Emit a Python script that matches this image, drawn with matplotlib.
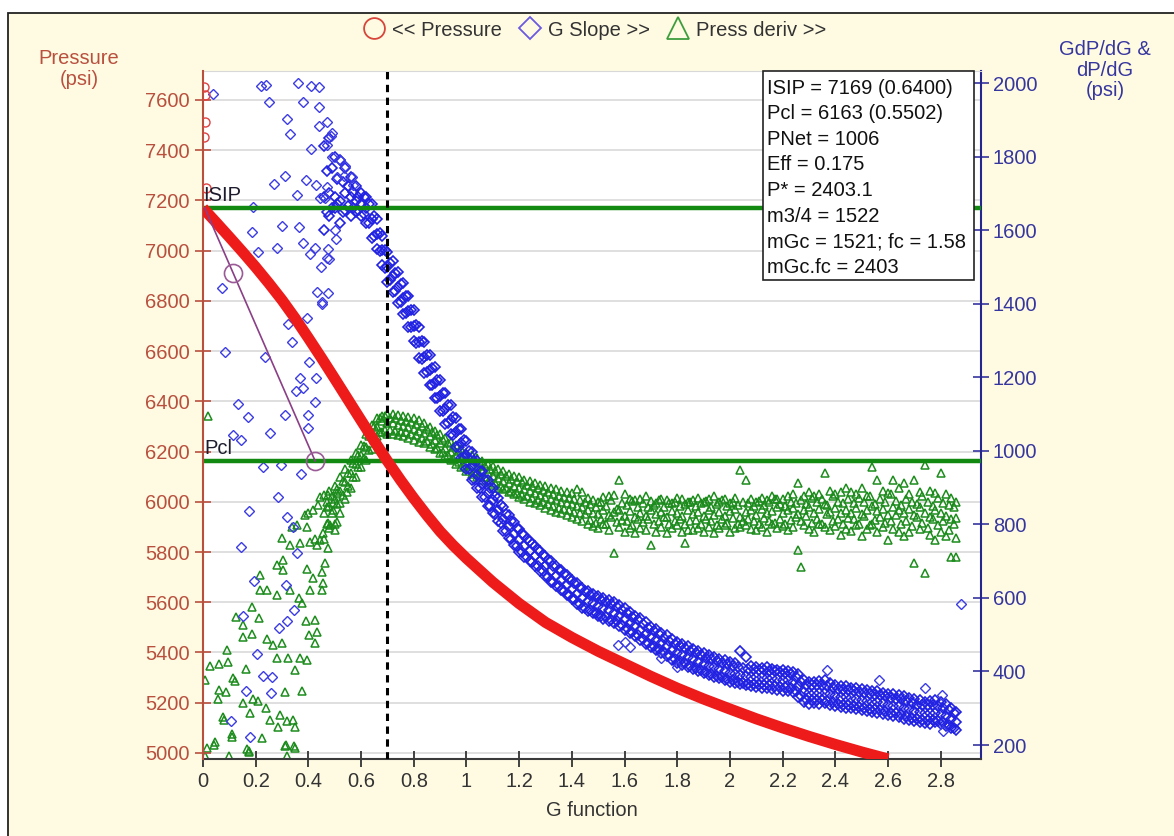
import matplotlib.pyplot as plt
import matplotlib.transforms as mtransforms
from matplotlib.lines import Line2D
from matplotlib.patches import Rectangle

plt.rcParams['font.family'] = ['Liberation Sans', 'DejaVu Sans']

# ---- pressure (left axis, psi) ----
press_g = [0.0, 0.05, 0.10, 0.15, 0.20, 0.25, 0.30, 0.35, 0.40, 0.45, 0.50,
           0.55, 0.60, 0.65, 0.70, 0.75, 0.80, 0.85, 0.90, 0.95, 1.00, 1.10,
           1.20, 1.30, 1.40, 1.50, 1.60, 1.70, 1.80, 1.90, 2.00, 2.10, 2.20,
           2.30, 2.40, 2.50, 2.60]
press_v = [7169, 7112, 7054, 6995, 6934, 6870, 6803, 6730, 6652, 6572, 6490,
           6407, 6324, 6242, 6162, 6086, 6014, 5946, 5882, 5826, 5775, 5680,
           5595, 5520, 5460, 5405, 5355, 5305, 5258, 5215, 5175, 5136, 5100,
           5066, 5034, 5004, 4976]
press_early_g = [0.004, 0.006, 0.008, 0.005, 0.012]
press_early_v = [7652, 7620, 7512, 7453, 7250]

# ---- dense part of both derivative curves (right axis) ----
band_g = [0.46, 0.48, 0.50, 0.52, 0.54, 0.56, 0.58, 0.60, 0.62, 0.64,
          0.66, 0.68, 0.70, 0.72, 0.74, 0.76, 0.78, 0.80, 0.82, 0.84,
          0.86, 0.88, 0.90, 0.92, 0.94, 0.96, 0.98, 1.00, 1.02, 1.04,
          1.06, 1.08, 1.10, 1.12, 1.14, 1.16, 1.18, 1.20, 1.22, 1.24,
          1.26, 1.28, 1.30, 1.32, 1.34, 1.36, 1.38, 1.40, 1.42, 1.44,
          1.46, 1.48, 1.50, 1.52, 1.54, 1.56, 1.58, 1.60, 1.62, 1.64,
          1.66, 1.68, 1.70, 1.72, 1.74, 1.76, 1.78, 1.80, 1.82, 1.84,
          1.86, 1.88, 1.90, 1.92, 1.94, 1.96, 1.98, 2.00, 2.02, 2.04,
          2.06, 2.08, 2.10, 2.12, 2.14, 2.16, 2.18, 2.20, 2.22, 2.24,
          2.26, 2.28, 2.30, 2.32, 2.34, 2.36, 2.38, 2.40, 2.42, 2.44,
          2.46, 2.48, 2.50, 2.52, 2.54, 2.56, 2.58, 2.60, 2.62, 2.64,
          2.66, 2.68, 2.70, 2.72, 2.74, 2.76, 2.78, 2.80, 2.82, 2.84,
          2.86]
band_g2 = [0.47, 0.49, 0.51, 0.53, 0.55, 0.57, 0.59, 0.61, 0.63, 0.65,
           0.67, 0.69, 0.71, 0.73, 0.75, 0.77, 0.79, 0.81, 0.83, 0.85,
           0.87, 0.89, 0.91, 0.93, 0.95, 0.97, 0.99, 1.01, 1.03, 1.05,
           1.07, 1.09, 1.11, 1.13, 1.15, 1.17, 1.19, 1.21, 1.23, 1.25,
           1.27, 1.29, 1.31, 1.33, 1.35, 1.37, 1.39, 1.41, 1.43, 1.45,
           1.47, 1.49, 1.51, 1.53, 1.55, 1.57, 1.59, 1.61, 1.63, 1.65,
           1.67, 1.69, 1.71, 1.73, 1.75, 1.77, 1.79, 1.81, 1.83, 1.85,
           1.87, 1.89, 1.91, 1.93, 1.95, 1.97, 1.99, 2.01, 2.03, 2.05,
           2.07, 2.09, 2.11, 2.13, 2.15, 2.17, 2.19, 2.21, 2.23, 2.25,
           2.27, 2.29, 2.31, 2.33, 2.35, 2.37, 2.39, 2.41, 2.43, 2.45,
           2.47, 2.49, 2.51, 2.53, 2.55, 2.57, 2.59, 2.61, 2.63, 2.65,
           2.67, 2.69, 2.71, 2.73, 2.75, 2.77, 2.79, 2.81, 2.83, 2.85]

slope_hi = [1830, 1850, 1800, 1790, 1770, 1745, 1720, 1700, 1690, 1670,
            1630, 1585, 1542, 1517, 1487, 1457, 1422, 1382, 1337, 1297,
            1262, 1227, 1192, 1157, 1125, 1090, 1060, 1028, 998, 972,
            945, 920, 898, 872, 848, 826, 806, 788, 772, 756,
            742, 728, 715, 700, 688, 675, 662, 650, 640, 628,
            620, 612, 606, 600, 594, 590, 580, 572, 562, 552,
            545, 534, 522, 515, 506, 498, 488, 480, 474, 468,
            462, 455, 450, 444, 440, 434, 430, 426, 422, 455,
            440, 414, 412, 410, 412, 408, 405, 404, 402, 398,
            392, 378, 372, 372, 375, 378, 368, 362, 360, 360,
            356, 354, 352, 350, 348, 346, 342, 340, 338, 335,
            332, 328, 325, 322, 318, 320, 322, 318, 312, 300,
            290]
slope_mid = [1690, 1700, 1690, 1680, 1700, 1690, 1680, 1670, 1660, 1630,
             1590, 1545, 1500, 1475, 1445, 1415, 1380, 1340, 1295, 1255,
             1220, 1185, 1150, 1115, 1085, 1050, 1020, 990, 960, 935,
             910, 885, 865, 840, 815, 795, 775, 757, 742, 728,
             715, 700, 688, 672, 660, 648, 635, 623, 612, 600,
             592, 585, 578, 572, 566, 560, 552, 542, 533, 524,
             514, 503, 493, 485, 477, 468, 459, 451, 446, 440,
             433, 427, 421, 416, 411, 406, 401, 397, 394, 391,
             388, 386, 385, 384, 383, 382, 380, 378, 376, 372,
             360, 345, 342, 341, 342, 342, 338, 334, 331, 330,
             328, 325, 323, 320, 318, 316, 314, 310, 307, 305,
             302, 297, 292, 289, 288, 288, 288, 285, 278, 270,
             262]
slope_lo = [1600, 1640, 1660, 1620, 1655, 1640, 1650, 1640, 1620, 1580,
            1550, 1505, 1458, 1433, 1403, 1373, 1338, 1298, 1253, 1213,
            1178, 1143, 1108, 1073, 1045, 1010, 980, 952, 922, 898,
            875, 850, 832, 808, 782, 764, 744, 726, 712, 700,
            688, 672, 661, 644, 632, 621, 608, 596, 584, 572,
            564, 558, 550, 544, 538, 532, 524, 514, 504, 496,
            486, 476, 466, 458, 450, 442, 432, 424, 418, 412,
            408, 402, 396, 390, 386, 382, 376, 372, 368, 366,
            362, 360, 358, 356, 354, 352, 350, 348, 346, 344,
            330, 318, 312, 314, 312, 315, 310, 306, 304, 302,
            300, 298, 296, 292, 290, 288, 285, 282, 280, 276,
            272, 268, 264, 262, 260, 258, 262, 258, 252, 245,
            240]
slope_a = [1760, 1770, 1740, 1730, 1720, 1705, 1690, 1690, 1670, 1640,
           1592, 1546, 1512, 1484, 1454, 1422, 1384, 1342, 1299, 1262,
           1226, 1192, 1156, 1124, 1092, 1059, 1029, 999, 972, 946,
           922, 899, 876, 852, 829, 809, 790, 774, 759, 746,
           730, 716, 702, 688, 676, 664, 651, 640, 628, 618,
           608, 602, 595, 589, 583, 576, 567, 558, 548, 539,
           528, 518, 509, 501, 492, 484, 475, 468, 463, 456,
           450, 444, 438, 434, 428, 424, 419, 416, 412, 410,
           407, 406, 404, 404, 402, 401, 399, 397, 394, 386,
           372, 364, 362, 362, 362, 360, 356, 352, 350, 349,
           346, 344, 342, 339, 337, 335, 332, 328, 326, 324,
           320, 314, 310, 308, 308, 308, 306, 302, 294, 286]
slope_b = [1650, 1660, 1670, 1650, 1665, 1660, 1655, 1645, 1620, 1585,
           1544, 1498, 1464, 1436, 1406, 1374, 1336, 1294, 1251, 1214,
           1178, 1144, 1108, 1076, 1044, 1011, 981, 951, 924, 898,
           874, 851, 828, 804, 781, 761, 742, 726, 711, 698,
           686, 672, 658, 644, 632, 620, 607, 596, 584, 574,
           568, 560, 552, 549, 540, 536, 527, 518, 508, 499,
           488, 478, 469, 461, 452, 444, 435, 428, 423, 416,
           410, 404, 398, 394, 388, 384, 379, 376, 372, 370,
           367, 366, 364, 364, 362, 361, 359, 357, 354, 346,
           332, 324, 322, 322, 322, 320, 316, 312, 310, 309,
           306, 304, 302, 299, 297, 295, 292, 288, 286, 284,
           280, 274, 270, 268, 268, 268, 266, 262, 254, 246]

deriv_hi = [880, 890, 905, 930, 950, 975, 995, 1015, 1045, 1070,
            1090, 1095, 1100, 1100, 1098, 1095, 1092, 1088, 1085, 1075,
            1065, 1055, 1045, 1035, 1025, 1015, 1005, 995, 988, 980,
            972, 965, 958, 950, 945, 938, 932, 928, 922, 918,
            912, 908, 905, 900, 895, 890, 888, 885, 895, 888,
            872, 866, 862, 874, 876, 880, 921, 884, 870, 865,
            868, 876, 864, 858, 870, 866, 858, 872, 868, 862,
            866, 872, 860, 868, 878, 862, 868, 858, 872, 949,
            921, 868, 862, 872, 866, 878, 870, 868, 876, 882,
            913, 878, 888, 876, 884, 940, 892, 882, 888, 900,
            888, 882, 898, 878, 957, 921, 892, 886, 921, 898,
            913, 882, 921, 888, 962, 892, 886, 940, 882, 872,
            860]
deriv_mid = [830, 850, 870, 890, 915, 940, 965, 990, 1010, 1040,
             1065, 1080, 1075, 1075, 1070, 1068, 1065, 1060, 1055, 1048,
             1040, 1030, 1020, 1008, 998, 990, 980, 970, 962, 955,
             948, 940, 932, 925, 918, 912, 905, 900, 895, 890,
             885, 880, 875, 870, 865, 860, 858, 855, 850, 848,
             840, 832, 828, 838, 826, 834, 840, 822, 836, 820,
             832, 824, 838, 828, 835, 820, 836, 830, 824, 840,
             828, 834, 822, 838, 826, 834, 824, 836, 842, 820,
             834, 840, 826, 842, 830, 836, 846, 832, 838, 844,
             828, 838, 848, 832, 842, 855, 835, 845, 830, 840,
             832, 845, 828, 840, 850, 836, 842, 826, 846, 838,
             830, 842, 826, 846, 832, 820, 838, 830, 822, 815,
             818]
deriv_lo = [760, 790, 800, 830, 870, 900, 930, 955, 975, 1005,
            1040, 1050, 1045, 1045, 1042, 1040, 1035, 1030, 1025, 1020,
            1010, 1005, 995, 985, 975, 965, 955, 945, 938, 930,
            922, 915, 908, 900, 895, 888, 882, 875, 870, 862,
            858, 852, 845, 840, 835, 830, 825, 820, 815, 810,
            800, 796, 790, 802, 786, 723, 794, 780, 790, 776,
            790, 784, 745, 780, 794, 776, 790, 798, 780, 784,
            784, 790, 780, 794, 776, 790, 798, 780, 790, 794,
            798, 788, 784, 794, 780, 800, 790, 796, 786, 792,
            731, 798, 788, 778, 800, 792, 786, 796, 772, 788,
            782, 798, 768, 788, 800, 778, 792, 758, 788, 778,
            768, 778, 696, 788, 668, 772, 758, 778, 768, 712,
            762]
deriv_a = [862, 878, 895, 918, 940, 966, 990, 1012, 1040, 1068,
           1090, 1094, 1090, 1088, 1084, 1082, 1078, 1074, 1068, 1060,
           1052, 1042, 1030, 1020, 1010, 1000, 992, 982, 975, 968,
           960, 952, 944, 938, 932, 924, 918, 914, 908, 904,
           898, 894, 888, 884, 878, 875, 872, 868, 865, 862,
           856, 848, 862, 850, 866, 842, 858, 852, 864, 848,
           858, 848, 854, 866, 846, 858, 862, 850, 856, 860,
           850, 858, 864, 846, 856, 866, 850, 860, 854, 862,
           858, 850, 864, 854, 860, 868, 856, 850, 862, 858,
           866, 856, 872, 860, 868, 854, 878, 862, 858, 870,
           858, 872, 862, 878, 856, 868, 860, 882, 864, 854,
           868, 860, 856, 878, 862, 850, 872, 858, 852, 846]
deriv_b = [800, 832, 855, 880, 905, 930, 955, 980, 1002, 1030,
           1052, 1058, 1058, 1055, 1052, 1050, 1046, 1042, 1036, 1028,
           1018, 1008, 998, 988, 978, 970, 960, 952, 942, 935,
           928, 920, 912, 905, 898, 892, 886, 880, 876, 872,
           866, 860, 855, 850, 845, 842, 838, 835, 832, 828,
           812, 804, 816, 800, 820, 806, 812, 808, 798, 816,
           806, 816, 800, 810, 820, 802, 808, 816, 800, 810,
           812, 802, 816, 808, 798, 814, 805, 818, 802, 810,
           815, 808, 802, 818, 810, 805, 816, 802, 812, 820,
           810, 822, 805, 816, 800, 828, 808, 815, 802, 818,
           815, 802, 822, 798, 812, 820, 805, 810, 825, 802,
           810, 795, 820, 805, 790, 815, 798, 808, 786, 800]

# ---- early scattered points (right axis) ----
slope_g = [0.038, 0.22, 0.24, 0.25, 0.36, 0.41, 0.44, 0.38, 0.44, 0.32, 0.33,
           0.47, 0.44, 0.49, 0.486, 0.47, 0.41, 0.49, 0.52, 0.54, 0.51, 0.535,
           0.565, 0.57, 0.31, 0.27, 0.39, 0.43, 0.47, 0.357, 0.444, 0.463,
           0.19, 0.186, 0.30, 0.365, 0.21, 0.28, 0.38, 0.425, 0.406, 0.474,
           0.505, 0.50, 0.47, 0.48, 0.448, 0.072, 0.433, 0.474, 0.45, 0.45,
           0.083, 0.235, 0.323, 0.395, 0.338, 0.402, 0.368, 0.43, 0.353, 0.38,
           0.425, 0.133, 0.17, 0.31, 0.398, 0.40, 0.254, 0.115, 0.144, 0.227,
           0.296, 0.372, 0.285, 0.175, 0.32, 0.343, 0.144, 0.356, 0.195, 0.315,
           0.345, 0.152, 0.318, 0.288, 0.205, 0.227, 0.262, 0.163, 0.258,
           0.106, 0.178, 1.575, 1.60, 1.62, 1.74, 1.80, 2.37, 2.565, 2.74,
           2.805, 2.81, 2.877]
slope_v = [1970, 1992, 1995, 1948, 2000, 1992, 1989, 1948, 1935, 1902, 1861,
           1894, 1883, 1864, 1856, 1832, 1821, 1799, 1791, 1774, 1745, 1747,
           1745, 1723, 1747, 1726, 1736, 1723, 1717, 1696, 1688, 1688,
           1663, 1595, 1611, 1609, 1541, 1552, 1565, 1552, 1535, 1549,
           1576, 1601, 1524, 1522, 1500, 1443, 1432, 1429, 1405, 1399,
           1269, 1255, 1345, 1361, 1296, 1242, 1198, 1198, 1163, 1171,
           1133, 1128, 1092, 1098, 1098, 1062, 1049, 1043, 1030, 957,
           962, 937, 875, 837, 821, 793, 739, 723, 647, 636,
           568, 552, 538, 519, 448, 389, 386, 348, 342,
           264, 223, 473, 480, 466, 438, 413, 405, 378, 356,
           337, 237, 584]

deriv_g = [0.008, 0.027, 0.061, 0.095, 0.091, 0.061, 0.087, 0.057, 0.076, 0.08,
           0.11, 0.042, 0.008, 0.114, 0.121, 0.163, 0.152, 0.19, 0.209, 0.178,
           0.239, 0.254, 0.292, 0.285, 0.318, 0.342, 0.349, 0.224, 0.315, 0.345,
           0.167, 0.175, 0.125, 0.152, 0.186, 0.213, 0.152, 0.186, 0.243, 0.266,
           0.30, 0.281, 0.323, 0.368, 0.395, 0.349, 0.311, 0.376, 0.391, 0.425,
           0.402, 0.433, 0.425, 0.216, 0.243, 0.281, 0.33, 0.364, 0.376, 0.216,
           0.281, 0.304, 0.304, 0.395, 0.417, 0.452, 0.455, 0.452, 0.406, 0.463,
           0.30, 0.33, 0.368, 0.406, 0.425, 0.444, 0.474, 0.455, 0.474, 0.50,
           0.387, 0.398, 0.417, 0.436, 0.47, 0.493, 0.52, 0.444, 0.474, 0.508,
           0.546, 0.493, 0.508, 0.482, 0.338, 0.357, 0.395, 0.433, 0.015, 0.045,
           0.10, 0.11, 0.175, 0.31, 0.35, 0.32, 0.02, 2.27, 2.86, 1.83]
deriv_v = [378, 416, 421, 427, 459, 351, 343, 324, 277, 269,
           223, 201, 169, 383, 375, 408, 315, 324, 321, 288,
           302, 269, 283, 250, 264, 269, 250, 218, 199, 196,
           188, 180, 549, 527, 576, 546, 495, 503, 487, 473,
           478, 438, 438, 438, 432, 405, 343, 348, 536, 541,
           500, 508, 478, 622, 622, 609, 622, 601, 587, 663,
           690, 677, 704, 680, 655, 671, 641, 622, 622, 696,
           764, 745, 750, 753, 761, 758, 737, 777, 804, 785,
           826, 832, 840, 853, 848, 859, 859, 875, 881, 886,
           889, 840, 807, 799, 794, 799, 794, 745, 193, 207,
           169, 229, 183, 196, 193, 169, 1095, 685, 712, 750]

# ---- closure picks ----
isip, pcl = 7169, 6163
closure_g = 0.70
tangent_g = [0.007, 0.4254]
tangent_v = [7169, 6163]
pick_g = [0.1147, 0.4254]
pick_v = [6910, 6163]
info_lines = ["ISIP = 7169 (0.6400)", "Pcl = 6163 (0.5502)", "PNet = 1006",
              "Eff = 0.175", "P* = 2403.1", "m3/4 = 1522",
              "mGc = 1521; fc = 1.58", "mGc.fc = 2403"]

W, H = 1174, 836
RED = "#ee1b1b"
BLUE = "#2222e2"
GREEN = "#1c8c1c"
LCOL = "#b9503e"
RCOL = "#36369f"
FS = 14.5

fig = plt.figure(figsize=(W / 100, H / 100), dpi=100)
fig.patch.set_facecolor("white")
fig.patches.append(Rectangle((8 / W, -0.1), 1.2, 1.1 - 13 / H,
                             transform=fig.transFigure, fc="#fffbe3",
                             ec="#222222", lw=1.3, zorder=-10))

x0, x1, y0, y1 = 203, 981, 71, 759
ax = fig.add_axes([x0 / W, 1 - y1 / H, (x1 - x0) / W, (y1 - y0) / H])
axp = ax.twinx()
ax.yaxis.tick_right()
axp.yaxis.tick_left()
ax.set_facecolor("white")

ax.set_xlim(0, 2.953)
ax.set_ylim(162, 2033)
axp.set_ylim(4976, 7715)

# horizontal grid follows the pressure ticks
press_ticks = list(range(5000, 7601, 200))
grid_tr = mtransforms.blended_transform_factory(ax.transAxes, axp.transData)
for yv in press_ticks:
    ax.add_line(Line2D([0, 1], [yv, yv], transform=grid_tr, color="#d9d9d9",
                       lw=1.2, zorder=0))

tri = dict(ls="none", marker="^", ms=6.2, mfc="none", mec=GREEN, mew=1.1, zorder=2)
dia = dict(ls="none", marker="D", ms=5.0, mfc="none", mec=BLUE, mew=1.2, zorder=3)
for vals in (deriv_hi, deriv_mid, deriv_lo):
    ax.plot(band_g, vals, **tri)
for vals in (deriv_a, deriv_b):
    ax.plot(band_g2, vals, **tri)
ax.plot(deriv_g, deriv_v, **tri)
for vals in (slope_hi, slope_mid, slope_lo):
    ax.plot(band_g, vals, **dia)
for vals in (slope_a, slope_b):
    ax.plot(band_g2, vals, **dia)
ax.plot(slope_g, slope_v, **dict(dia, mec="#3c3ce2", mew=1.0))

# pressure side
axp.axhline(isip, color="#128a12", lw=3.2, zorder=1)
axp.axhline(pcl, color="#128a12", lw=3.2, zorder=1)
axp.axvline(closure_g, color="black", lw=2.2, ls=(0, (2.4, 1.8)), zorder=2)
axp.plot(press_g, press_v, color=RED, lw=8, solid_capstyle="butt",
         solid_joinstyle="round", zorder=3)
axp.plot(press_early_g, press_early_v, marker="o", ms=6.5, ls="none",
         mfc="none", mec="#e04040", mew=1.0, zorder=3)
axp.plot(tangent_g, tangent_v, color="#8a3f86", lw=1.2, zorder=4)
axp.plot(pick_g, pick_v, marker="o", ms=13, ls="none", mfc="none",
         mec="#9a5a96", mew=1.2, zorder=4)
axp.text(0.0, isip + 12, "ISIP", fontsize=FS, color="#1d1d2e", ha="left",
         va="bottom", zorder=5)
axp.text(0.005, pcl + 12, "Pcl", fontsize=FS, color="#1d1d2e", ha="left",
         va="bottom", zorder=5)

# axes styling
ax.set_xticks([0.2 * i for i in range(15)])
ax.set_xticklabels(["%g" % round(0.2 * i, 1) for i in range(15)])
ax.set_yticks(list(range(200, 2001, 200)))
axp.set_yticks(press_ticks)
ax.tick_params(axis="x", direction="inout", length=11, width=1.3,
               color="#333333", labelcolor="#333333", labelsize=FS, pad=4)
ax.tick_params(axis="y", direction="inout", length=11, width=1.2,
               color=RCOL, labelcolor=RCOL, labelsize=FS, pad=3)
axp.tick_params(axis="y", direction="inout", length=11, width=1.2,
                color=LCOL, labelcolor=LCOL, labelsize=FS, pad=4)
for a in (ax, axp):
    for s in a.spines.values():
        s.set_visible(False)
ax.spines["bottom"].set_visible(True)
ax.spines["bottom"].set_color("#3a3a3a")
ax.spines["bottom"].set_linewidth(1.5)
ax.spines["right"].set_visible(True)
ax.spines["right"].set_color("#25258f")
ax.spines["right"].set_linewidth(1.5)
ax.spines["top"].set_visible(True)
ax.spines["top"].set_color("#d8d8d8")
axp.spines["left"].set_visible(True)
axp.spines["left"].set_color(LCOL)
axp.spines["left"].set_linewidth(1.5)

ax.set_xlabel("G function", fontsize=FS, color="#333333", labelpad=7)

fig.text(79 / W, 1 - 69 / H, "Pressure\n(psi)", ha="center", va="center",
         fontsize=FS, color=LCOL, linespacing=1.12)
fig.text(1105 / W, 1 - 70 / H, "GdP/dG &\ndP/dG\n(psi)", ha="center",
         va="center", fontsize=FS, color=RCOL, linespacing=1.08)

# summary box
bx0, by0, bx1, by1 = 763, 71, 974, 280
fig.patches.append(Rectangle((bx0 / W, 1 - by1 / H), (bx1 - bx0) / W,
                             (by1 - by0) / H, transform=fig.transFigure,
                             fc="white", ec="#222222", lw=1.2, zorder=5))
for i, line in enumerate(info_lines):
    fig.text(767 / W, 1 - (88 + 25.6 * i) / H, line, ha="left", va="center",
             fontsize=FS, color="#111111", zorder=6)

# legend along the top
handles = [
    Line2D([], [], ls="none", marker="o", ms=15, mfc="none", mec="#d8453a", mew=1.3),
    Line2D([], [], ls="none", marker="D", ms=11.5, mfc="none", mec="#6a5ae0", mew=1.3),
    Line2D([], [], ls="none", marker="^", ms=16, mfc="none", mec="#3d9d3d", mew=1.3),
]
fig.legend(handles, ["<< Pressure", "G Slope >>", "Press deriv >>"],
           loc="center", bbox_to_anchor=(595 / W, 1 - 30 / H), ncol=3,
           frameon=False, fontsize=FS, handlelength=1.0, handletextpad=0.4,
           columnspacing=0.9, labelcolor="#333333")

fig.savefig("out.png", dpi=100)
